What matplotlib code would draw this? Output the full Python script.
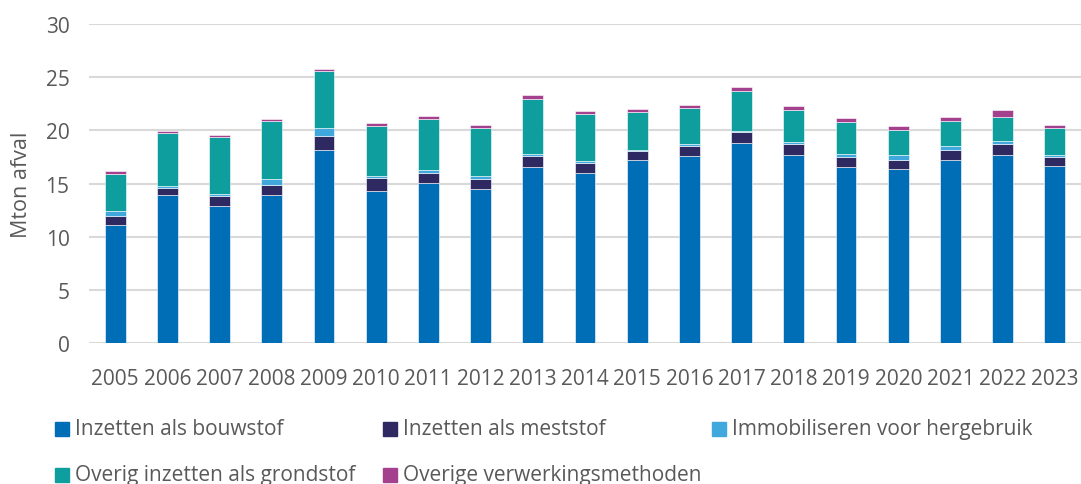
import matplotlib
matplotlib.use('Agg')
import matplotlib.pyplot as plt
from matplotlib.patches import Rectangle

years = [str(y) for y in range(2005, 2024)]

series_names = [
    'Inzetten als bouwstof',
    'Inzetten als meststof',
    'Immobiliseren voor hergebruik',
    'Overig inzetten als grondstof',
    'Overige verwerkingsmethoden',
]

# Mton afval per jaar
bouwstof = [11.1, 13.9, 12.9, 13.9, 18.2, 14.3, 15.1, 14.5, 16.6, 16.0,
            17.2, 17.6, 18.85, 17.7, 16.6, 16.4, 17.25, 17.7, 16.65]
meststof = [0.9, 0.7, 0.9, 1.0, 1.3, 1.2, 0.9, 0.95, 1.0, 0.95,
            0.9, 0.9, 1.0, 1.0, 0.9, 0.85, 0.95, 1.0, 0.9]
immobiliseren = [0.4, 0.2, 0.2, 0.5, 0.7, 0.2, 0.25, 0.25, 0.2, 0.15,
                 0.1, 0.25, 0.05, 0.2, 0.25, 0.4, 0.3, 0.3, 0.15]
grondstof = [3.5, 5.0, 5.4, 5.5, 5.4, 4.7, 4.85, 4.5, 5.2, 4.4,
             3.5, 3.35, 3.85, 3.0, 3.05, 2.4, 2.4, 2.3, 2.5]
overig = [0.3, 0.15, 0.15, 0.2, 0.2, 0.3, 0.25, 0.3, 0.3, 0.3,
          0.3, 0.3, 0.3, 0.35, 0.4, 0.35, 0.4, 0.6, 0.35]

colors = ['#006EB7', '#2E2A61', '#41A8DD', '#0F9E9E', '#A3418F']
text_color = '#595959'

plt.rcParams['font.family'] = ['Open Sans', 'DejaVu Sans']

fig = plt.figure(figsize=(10.81, 4.85), dpi=100)
ax = fig.add_axes([89 / 1081, 1 - 344.3 / 485, 992 / 1081, (344.3 - 25) / 485])

x = list(range(len(years)))
bottom = [0.0] * len(years)
for values, color in zip([bouwstof, meststof, immobiliseren, grondstof, overig], colors):
    ax.bar(x, values, bottom=bottom, width=0.4, color=color,
           edgecolor='white', linewidth=0.4, zorder=3)
    bottom = [b + v for b, v in zip(bottom, values)]

ax.set_xlim(-0.5, len(years) - 0.5)
ax.set_ylim(0, 30)
ax.set_yticks(range(0, 31, 5))
ax.set_xticks(x)
ax.set_xticklabels(years)
ax.grid(axis='y', color='#D9D9D9', linewidth=1.5, zorder=0)
for spine in ax.spines.values():
    spine.set_visible(False)
ax.tick_params(axis='both', length=0, labelsize=15, colors=text_color)
ax.tick_params(axis='x', pad=18)
ax.tick_params(axis='y', pad=14)
ax.set_ylabel('Mton afval', fontsize=15.5, color=text_color, labelpad=10)

# legend, laid out in fixed columns like the original
legend_pos = [(55, 430), (383, 430), (712, 430), (55, 475.5), (383, 475.5)]
for name, color, (px, py) in zip(series_names, colors, legend_pos):
    fig.add_artist(Rectangle((px / 1081, 1 - (py + 7) / 485), 14 / 1081, 14 / 485,
                             color=color, transform=fig.transFigure))
    fig.text((px + 20) / 1081, 1 - py / 485, name, fontsize=15,
             color=text_color, va='center', ha='left')

fig.savefig('out.png', dpi=100)
